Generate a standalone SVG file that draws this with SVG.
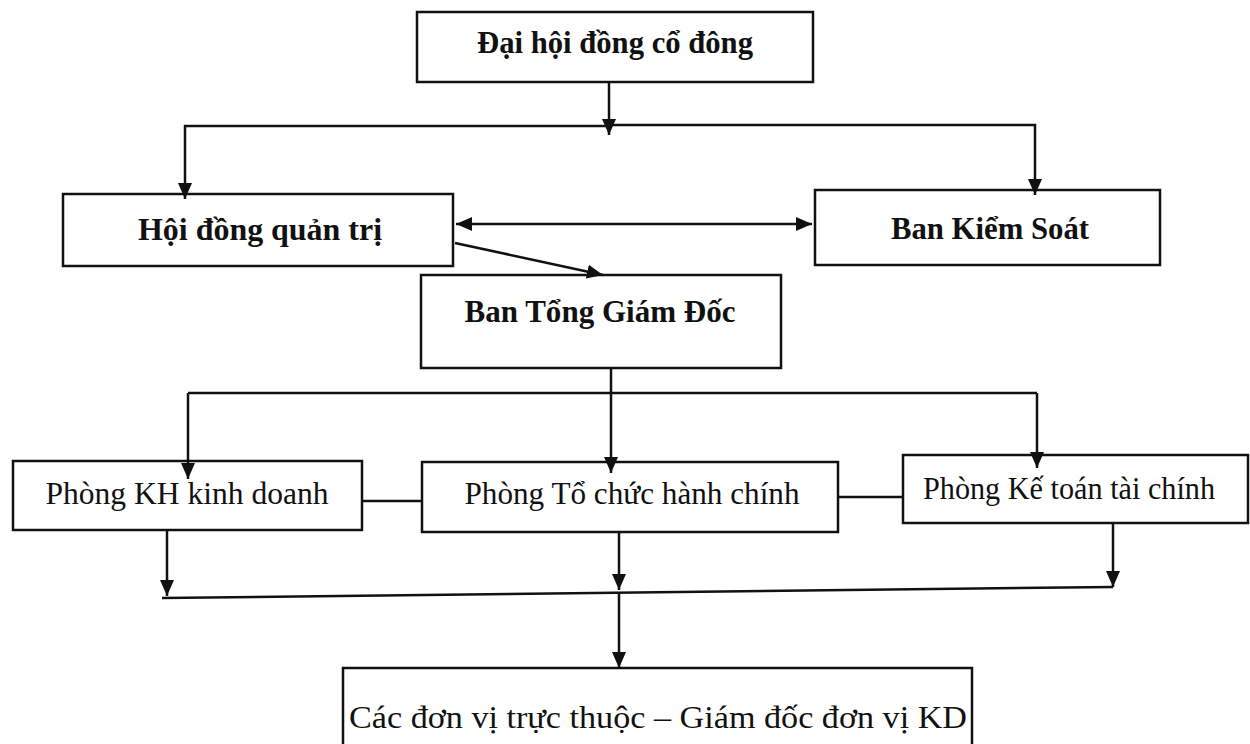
<svg xmlns="http://www.w3.org/2000/svg" width="1250" height="744" viewBox="0 0 1250 744">
<style>
  .box { fill: #ffffff; stroke: #111111; stroke-width: 2.5; }
  .lbl { font-family: "Liberation Serif", "Times New Roman", serif; font-size: 32px; fill: #111111; text-anchor: middle; }
  .b { font-weight: bold; }
  .ln { fill: none; stroke: #111111; stroke-width: 2.5; }
</style>
<defs>
  <marker id="arr" viewBox="0 0 16 14" refX="16" refY="7" markerWidth="16" markerHeight="14" markerUnits="userSpaceOnUse" orient="auto-start-reverse">
    <path d="M0,0 L16,7 L0,14 z" fill="#111111"/>
  </marker>
</defs>
<rect width="1250" height="744" fill="#ffffff"/>

<g id="n1">
  <rect class="box" x="417" y="12" width="396" height="70"/>
  <text class="lbl b" x="615" y="53" textLength="276" lengthAdjust="spacingAndGlyphs">Đại hội đồng cổ đông</text>
</g>
<g id="n2">
  <rect class="box" x="63" y="194" width="390" height="72"/>
  <text class="lbl b" x="260" y="240" textLength="244" lengthAdjust="spacingAndGlyphs">Hội đồng quản trị</text>
</g>
<g id="n3">
  <rect class="box" x="815" y="190" width="345" height="75"/>
  <text class="lbl b" x="990" y="239" textLength="198" lengthAdjust="spacingAndGlyphs">Ban Kiểm Soát</text>
</g>
<g id="n4">
  <rect class="box" x="421" y="275" width="360" height="93"/>
  <text class="lbl b" x="600" y="322" textLength="271" lengthAdjust="spacingAndGlyphs">Ban Tổng Giám Đốc</text>
</g>
<g id="n5">
  <rect class="box" x="13" y="461" width="349" height="69"/>
  <text class="lbl" x="187" y="504" textLength="283" lengthAdjust="spacingAndGlyphs">Phòng KH kinh doanh</text>
</g>
<g id="n6">
  <rect class="box" x="422" y="462" width="416" height="70"/>
  <text class="lbl" x="632" y="504" textLength="335" lengthAdjust="spacingAndGlyphs">Phòng Tổ chức hành chính</text>
</g>
<g id="n7">
  <rect class="box" x="903" y="455" width="345" height="68"/>
  <text class="lbl" x="1069" y="499" textLength="292" lengthAdjust="spacingAndGlyphs">Phòng Kế toán tài chính</text>
</g>
<g id="n8">
  <rect class="box" x="343" y="668" width="629" height="100"/>
  <text class="lbl" x="658" y="728" textLength="618" lengthAdjust="spacingAndGlyphs">Các đơn vị trực thuộc – Giám đốc đơn vị KD</text>
</g>

<g id="connectors">
  <path class="ln" d="M609,82 V135" marker-end="url(#arr)"/>
  <path class="ln" d="M609,126 H185 V199" marker-end="url(#arr)"/>
  <path class="ln" d="M609,125 H1035 V195" marker-end="url(#arr)"/>
  <path class="ln" d="M456,224 H812" marker-start="url(#arr)" marker-end="url(#arr)"/>
  <path class="ln" d="M455,243 L603,275" marker-end="url(#arr)"/>
  <path class="ln" d="M611,368 V473" marker-end="url(#arr)"/>
  <path class="ln" d="M188,393 H1037"/>
  <path class="ln" d="M188,393 V479" marker-end="url(#arr)"/>
  <path class="ln" d="M1037,393 V468" marker-end="url(#arr)"/>
  <path class="ln" d="M362,501 H422"/>
  <path class="ln" d="M838,497 H903"/>
  <path class="ln" d="M167,530 V596" marker-end="url(#arr)"/>
  <path class="ln" d="M619,532 V590" marker-end="url(#arr)"/>
  <path class="ln" d="M1113,523 V587" marker-end="url(#arr)"/>
  <path class="ln" d="M162,598 L1113,587"/>
  <path class="ln" d="M619,593 V668" marker-end="url(#arr)"/>
</g>
</svg>
